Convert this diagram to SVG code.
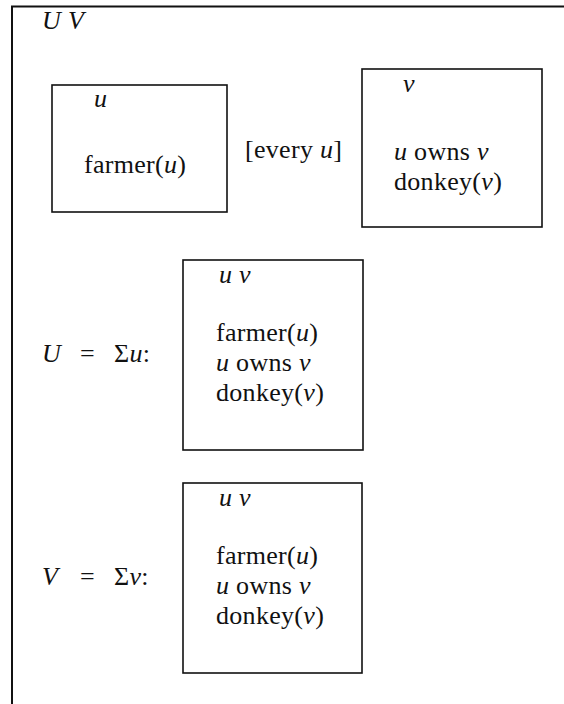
<svg xmlns="http://www.w3.org/2000/svg" width="564" height="704" viewBox="0 0 564 704">
<style>
text{font-family:"Liberation Serif","DejaVu Serif",serif;font-size:26px;fill:#111;letter-spacing:0.3px}
.i{font-style:italic}
.box{fill:none;stroke:#111;stroke-width:1.6}
.frame{fill:none;stroke:#111;stroke-width:2}
</style>
<rect width="564" height="704" fill="#fff"/>
<g id="frame">
<path class="frame" d="M12,704 V6.5 H564"/>
<text class="i" x="42" y="29">U V</text>
</g>
<g id="connectors"></g>
<g id="box1">
<rect class="box" x="52" y="85" width="175" height="127"/>
<text class="i" x="94" y="107">u</text>
<text x="84" y="173">farmer(<tspan class="i">u</tspan>)</text>
</g>
<g id="every">
<text x="245" y="158">[every <tspan class="i">u</tspan>]</text>
</g>
<g id="box2">
<rect class="box" x="362" y="69" width="180" height="158"/>
<text class="i" x="403" y="92">v</text>
<text x="394" y="160"><tspan class="i">u</tspan> owns <tspan class="i">v</tspan></text>
<text x="394" y="190">donkey(<tspan class="i">v</tspan>)</text>
</g>
<g id="sumU">
<text x="42" y="362"><tspan class="i">U</tspan><tspan x="80">=</tspan><tspan x="114">Σ</tspan><tspan class="i">u</tspan>:</text>
</g>
<g id="box3">
<rect class="box" x="183" y="260" width="180" height="190"/>
<text class="i" x="219" y="283">u v</text>
<text x="216" y="341">farmer(<tspan class="i">u</tspan>)</text>
<text x="216" y="371"><tspan class="i">u</tspan> owns <tspan class="i">v</tspan></text>
<text x="216" y="401">donkey(<tspan class="i">v</tspan>)</text>
</g>
<g id="sumV">
<text x="42" y="585"><tspan class="i">V</tspan><tspan x="80">=</tspan><tspan x="114">Σ</tspan><tspan class="i">v</tspan>:</text>
</g>
<g id="box4">
<rect class="box" x="183" y="483" width="179" height="190"/>
<text class="i" x="219" y="506">u v</text>
<text x="216" y="564">farmer(<tspan class="i">u</tspan>)</text>
<text x="216" y="594"><tspan class="i">u</tspan> owns <tspan class="i">v</tspan></text>
<text x="216" y="624">donkey(<tspan class="i">v</tspan>)</text>
</g>
</svg>
